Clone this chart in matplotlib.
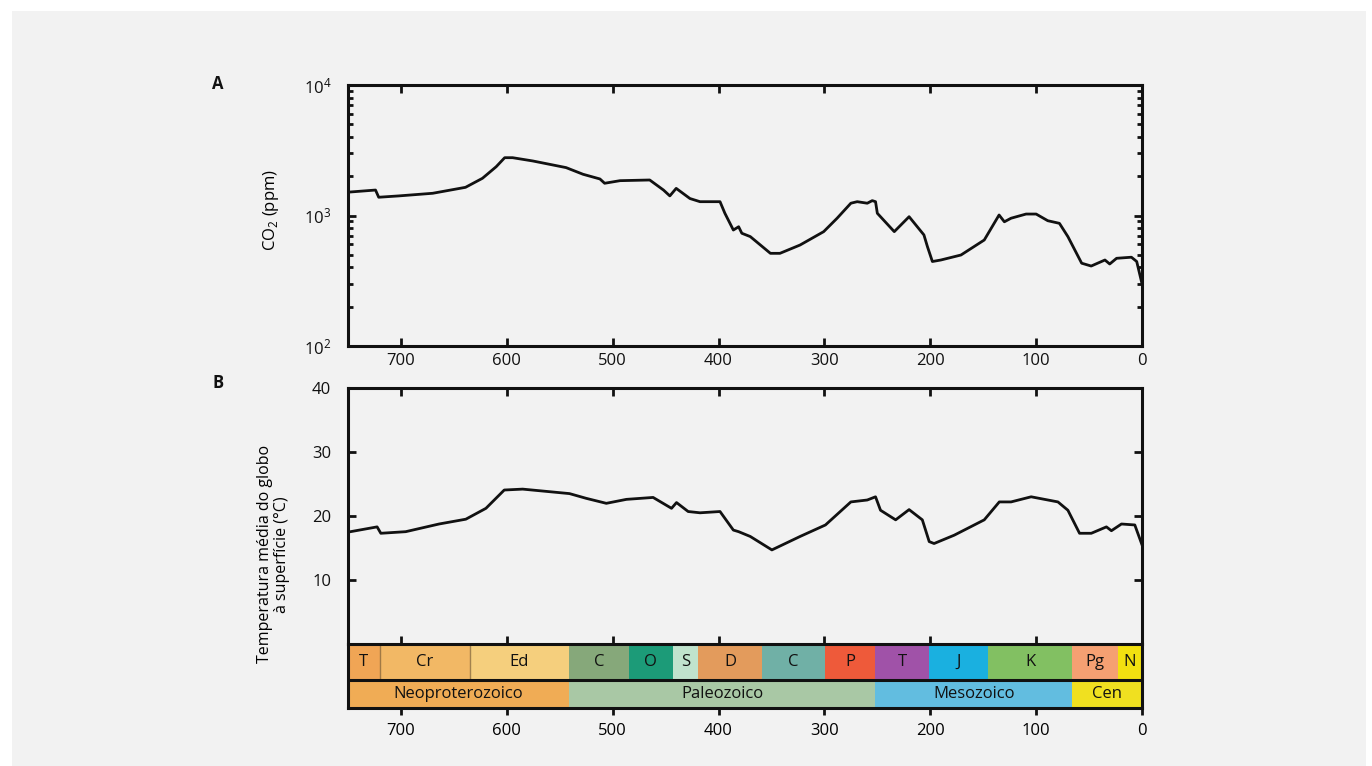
import matplotlib

matplotlib.use("Agg")

import matplotlib.pyplot as plt
from matplotlib.patches import Rectangle
from matplotlib.ticker import FixedLocator, LogLocator, NullFormatter

# --- data --------------------------------------------------------------------
# (A) atmospheric CO2 (ppm) against age (Ma)
co2_age = [751, 724, 721, 702, 670, 639, 623, 610, 602, 594.5, 575.5, 544, 528,
           512, 507.6, 493, 465, 452, 446, 440, 427, 417.5, 398.6, 394, 386, 381,
           378, 370, 351, 342, 323, 300.7, 288, 275, 269, 259.5, 254.8, 251.7, 250,
           234, 220, 206, 202.7, 198, 190, 171, 149, 135, 130, 123.7, 109.5, 100,
           89, 78, 70, 57, 48, 35, 30.5, 24, 10, 5, 0]
co2_ppm = [1507, 1567, 1380, 1413, 1480, 1644, 1928, 2366, 2773, 2773, 2618, 2328,
           2070, 1905, 1766, 1849, 1871, 1567, 1413, 1614, 1349, 1276, 1276, 1040,
           774, 820, 731, 689, 513, 513, 594, 752, 953, 1242, 1276, 1242, 1300, 1276,
           1040, 752, 979, 710, 578, 444, 456, 498, 649, 1009, 895, 953, 1026, 1026,
           912, 871, 689, 431, 410, 456, 425, 470, 479, 444, 300]

# (B) global mean surface temperature (deg C) against age (Ma)
temp_age = [751, 722.5, 719, 695.5, 664, 638.7, 619.7, 602.4, 585, 540.8, 525, 506,
            487, 461.8, 444.4, 439.7, 428.7, 417.5, 398.6, 386, 381, 370, 349.6, 323,
            299, 275, 259.5, 251.7, 247, 232.7, 220, 207.5, 201, 196.4, 177.4, 149,
            134.8, 123.7, 104.7, 79.4, 70, 59, 47.9, 33.6, 28.9, 19.4, 6.8, 0]
temp_c = [17.45, 18.3, 17.3, 17.55, 18.75, 19.5, 21.2, 24.06, 24.2, 23.5, 22.76,
          21.98, 22.6, 22.9, 21.2, 22.1, 20.7, 20.5, 20.7, 17.8, 17.55, 16.8, 14.7,
          16.8, 18.6, 22.2, 22.5, 23.0, 20.9, 19.4, 21.0, 19.4, 16.0, 15.7, 17.0,
          19.4, 22.2, 22.2, 23.0, 22.2, 20.9, 17.3, 17.3, 18.3, 17.7, 18.75, 18.6,
          15.5]

# geologic periods: labels, boundaries (Ma) and colours
period_names = ["T", "Cr", "Ed", "C", "O", "S", "D", "C", "P", "T", "J", "K", "Pg", "N"]
period_bounds = [750, 720, 635, 541, 485, 443, 419, 359, 299, 252, 201, 145, 66, 23, 0]
period_colors = ["#f0a555", "#f2b865", "#f5cf7d", "#86a87a", "#1c9b78", "#c0e3cd",
                 "#e39b5c", "#70b0a6", "#ee5a3a", "#a052a8", "#1ab0e0", "#82c062",
                 "#f5a072", "#f2e010"]

era_names = ["Neoproterozoico", "Paleozoico", "Mesozoico", "Cen"]
era_bounds = [750, 541, 252, 66, 0]
era_colors = ["#f0ac55", "#a9c8a5", "#62bde0", "#f0e020"]

x_ticks = [700, 600, 500, 400, 300, 200, 100, 0]

# --- style -------------------------------------------------------------------
BG = "#f2f2f2"
INK = "#111111"
plt.rcParams.update({
    "font.family": ["Open Sans", "DejaVu Sans"],
    "font.size": 12,
    "mathtext.fontset": "custom",
    "mathtext.rm": "Open Sans",
    "axes.linewidth": 2.2,
    "axes.edgecolor": INK,
})

W, H = 1372, 766
fig = plt.figure(figsize=(W / 100, H / 100), dpi=100, facecolor="white")
fig.patches.append(Rectangle((12 / W, 0), (1366 - 12) / W, 1 - 11 / H,
                             transform=fig.transFigure, facecolor=BG,
                             edgecolor="none", zorder=-10))


def fig_box(x0, y0, x1, y1):
    # pixel box (top-left origin) -> figure fraction rect
    return [x0 / W, 1 - y1 / H, (x1 - x0) / W, (y1 - y0) / H]


def style_ticks(ax):
    ax.tick_params(axis="both", which="both", direction="in", top=True, right=True,
                   width=2.0, color=INK, labelcolor=INK)
    ax.tick_params(axis="both", which="major", length=6)
    ax.tick_params(axis="both", which="minor", length=3.5)


# (A) CO2
ax_a = fig.add_axes(fig_box(348, 85, 1142, 346))
ax_a.set_facecolor(BG)
ax_a.plot(co2_age, co2_ppm, color=INK, lw=2.0, solid_joinstyle="round")
ax_a.set_yscale("log")
ax_a.set_ylim(100, 10000)
ax_a.set_xlim(750, 0)
ax_a.xaxis.set_major_locator(FixedLocator(x_ticks))
ax_a.yaxis.set_major_locator(FixedLocator([100, 1000, 10000]))
ax_a.set_yticklabels([r"$\mathregular{10^{2}}$", r"$\mathregular{10^{3}}$",
                      r"$\mathregular{10^{4}}$"])
ax_a.yaxis.set_minor_locator(LogLocator(base=10, subs=range(2, 10)))
ax_a.yaxis.set_minor_formatter(NullFormatter())
style_ticks(ax_a)
ax_a.tick_params(axis="x", pad=5)
ax_a.tick_params(axis="y", pad=12)
ax_a.set_ylabel(r"CO$_2$ (ppm)", fontsize=12)
ax_a.yaxis.set_label_coords(-0.084, 0.52)
fig.text(218 / W, 1 - 84 / H, "A", fontsize=12, fontweight="bold", ha="center",
         va="center", color=INK)

# (B) temperature
ax_b = fig.add_axes(fig_box(348, 388, 1142, 644))
ax_b.set_facecolor(BG)
ax_b.plot(temp_age, temp_c, color=INK, lw=2.0, solid_joinstyle="round")
ax_b.set_xlim(750, 0)
ax_b.set_ylim(0, 40)
ax_b.xaxis.set_major_locator(FixedLocator(x_ticks))
ax_b.yaxis.set_major_locator(FixedLocator([10, 20, 30, 40]))
ax_b.set_xticklabels([])
style_ticks(ax_b)
ax_b.tick_params(axis="y", pad=12)
ax_b.spines["bottom"].set_visible(False)
ax_b.set_ylabel("Temperatura média do globo\nà superfície (°C)", fontsize=11.5,
                linespacing=1.05)
ax_b.yaxis.set_label_coords(-0.073, 0.35)
fig.text(218 / W, 1 - 383 / H, "B", fontsize=12, fontweight="bold", ha="center",
         va="center", color=INK)

# geologic time bar under (B)
ax_g = fig.add_axes(fig_box(348, 644, 1142, 708))
ax_g.set_xlim(750, 0)
ax_g.set_ylim(0, 1)
split = 0.43
for name, x0, x1, c in zip(period_names, period_bounds[:-1], period_bounds[1:],
                           period_colors):
    ax_g.add_patch(Rectangle((x1, split), x0 - x1, 1 - split, facecolor=c,
                             edgecolor="none"))
    ax_g.text((x0 + x1) / 2, (1 + split) / 2, name, ha="center", va="center",
              fontsize=12, color=INK)
for name, x0, x1, c in zip(era_names, era_bounds[:-1], era_bounds[1:], era_colors):
    ax_g.add_patch(Rectangle((x1, 0), x0 - x1, split, facecolor=c, edgecolor="none"))
    ax_g.text((x0 + x1) / 2, split / 2, name, ha="center", va="center",
              fontsize=12, color=INK)
# thin dividers inside the Neoproterozoic block
for b in period_bounds[1:3]:
    ax_g.plot([b, b], [split, 1], color="#6a5030", lw=1.0, alpha=0.6)
ax_g.axhline(split, color=INK, lw=2.2)
ax_g.xaxis.set_major_locator(FixedLocator(x_ticks))
ax_g.set_yticks([])
ax_g.tick_params(axis="x", direction="out", length=5, width=2.0, color=INK, pad=6)

fig.savefig("out.png", dpi=100, facecolor="white")
